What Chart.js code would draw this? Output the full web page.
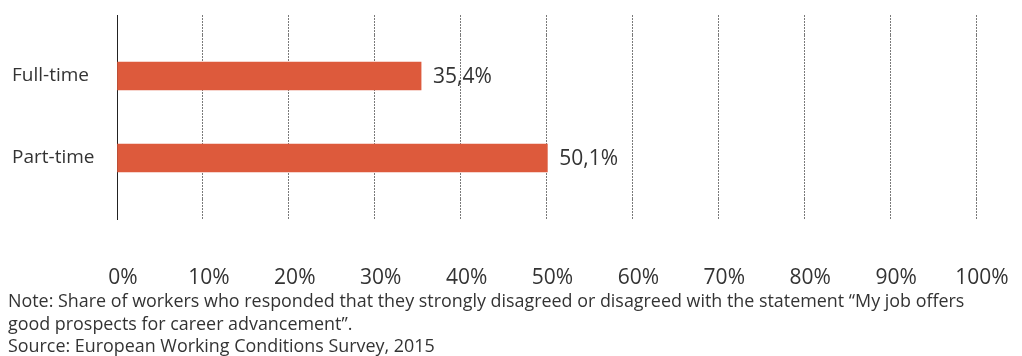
<!DOCTYPE html>
<html>
<head>
<meta charset="utf-8">
<script src="https://cdn.jsdelivr.net/npm/chart.js@4"></script>
<style>
  html, body { margin: 0; padding: 0; background: #fff; }
  #wrap { position: absolute; left: 0; top: 0; width: 1022px; height: 290px; }
  #note {
    position: absolute; left: 8px; top: 289px; width: 1010px;
    font-family: "Open Sans", sans-serif; font-size: 17.9px; line-height: 22.5px;
    color: #333; white-space: nowrap;
  }
</style>
</head>
<body>
<div id="wrap"><canvas id="Chart"></canvas></div>
<div id="note">
  Note: Share of workers who responded that they strongly disagreed or disagreed with the statement “My job offers<br>
  good prospects for career advancement”.<br>
  Source: European Working Conditions Survey, 2015
</div>
<script>
const categories = ['Full-time', 'Part-time'];
const shares = [35.4, 50.1];
const tickValues = [0, 10, 20, 30, 40, 50, 60, 70, 80, 90, 100];

const FONT = '"Open Sans", sans-serif';
const TEXT = '#333';

const pct = v => v.toFixed(1).replace('.', ',') + '%';

// value labels to the right of each bar
const barLabels = {
    id: 'barLabels',
    afterDatasetsDraw(chart) {
        const c = chart.ctx;
        const meta = chart.getDatasetMeta(0);
        c.save();
        c.font = '21px ' + FONT;
        c.fillStyle = TEXT;
        c.textBaseline = 'middle';
        c.textAlign = 'left';
        meta.data.forEach((bar, i) => {
            c.fillText(pct(shares[i]), bar.x + 12, bar.y + 1);
        });
        c.restore();
    }
};

const isZero = ctx => ctx.tick && ctx.tick.value === 0;
const gridColor = c => isZero(c) ? '#222' : '#7a7a7a';
const gridDash = c => isZero(c) ? [] : [2, 1];

const ctx = document.getElementById('Chart');

new Chart(ctx, {
    type: 'bar',
    data: {
        labels: categories,
        datasets: [{
            data: shares,
            backgroundColor: '#dd5a3c',
            barThickness: 28
        }]
    },
    options: {
        indexAxis: 'y',
        responsive: true,
        maintainAspectRatio: false,
        animation: false,
        layout: {
            padding: { left: 12, top: 15, right: 46, bottom: 3 }
        },
        plugins: {
            legend: { display: false },
            tooltip: { enabled: false }
        },
        scales: {
            x: {
                min: 0,
                max: 100,
                afterBuildTicks: s => { s.ticks = tickValues.map(v => ({ value: v })); },
                // fixed height; the layout padding already leaves room for the end labels
                afterFit: s => {
                    s.height = 88;
                    s.paddingLeft = 0;
                    s.paddingRight = 0;
                },
                ticks: {
                    callback: v => v + '%',
                    font: { family: FONT, size: 21 },
                    color: TEXT,
                    padding: 45,
                    labelOffset: 6,
                    maxRotation: 0
                },
                grid: {
                    color: gridColor,
                    tickColor: gridColor,
                    tickLength: 21,
                    tickBorderDash: gridDash
                },
                border: { display: false, dash: gridDash }
            },
            // top axis only extends the gridlines above the bars
            x2: {
                position: 'top',
                min: 0,
                max: 100,
                afterBuildTicks: s => { s.ticks = tickValues.map(v => ({ value: v })); },
                afterFit: s => { s.height = 20; },
                ticks: { display: false },
                grid: {
                    drawOnChartArea: false,
                    color: gridColor,
                    tickColor: gridColor,
                    tickLength: 20,
                    tickBorderDash: gridDash
                },
                border: { display: false }
            },
            y: {
                afterFit: s => { s.width = 105; },
                ticks: {
                    crossAlign: 'far',
                    font: { family: FONT, size: 19 },
                    color: TEXT
                },
                grid: { display: false },
                border: { display: true, color: '#222', width: 1 }
            }
        }
    },
    plugins: [barLabels]
});
</script>
</body>
</html>
